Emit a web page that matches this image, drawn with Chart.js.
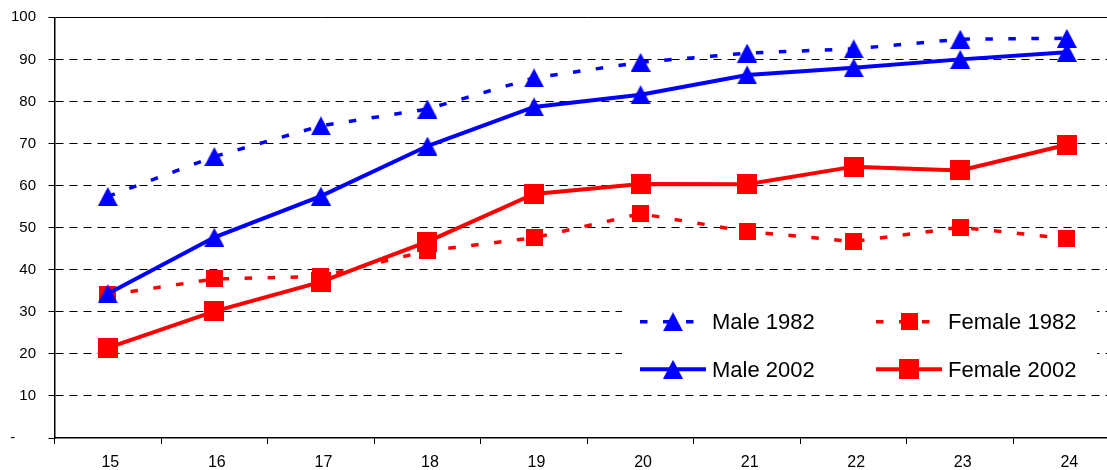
<!DOCTYPE html>
<html>
<head>
<meta charset="utf-8">
<script src="https://cdn.jsdelivr.net/npm/chart.js@4/dist/chart.umd.min.js"></script>
<style>
  html, body { margin: 0; padding: 0; background: #fff; overflow: hidden; width: 1107px; height: 470px; }
  canvas { display: block; }
</style>
</head>
<body>
<canvas id="chart" width="1130" height="470"></canvas>
<script>
// Age groups along the x axis
const ages = ['15', '16', '17', '18', '19', '20', '21', '22', '23', '24'];

// Percentages per age group
const male1982   = [57.4, 66.9, 74.2, 78.2, 85.6, 89.3, 91.5, 92.5, 94.8, 95.0];
const female1982 = [34.0, 37.8, 38.4, 44.5, 47.6, 53.3, 49.1, 46.7, 50.1, 47.4];
const male2002   = [34.3, 47.7, 57.5, 69.4, 78.7, 81.6, 86.3, 88.0, 90.0, 91.7];
const female2002 = [21.4, 30.1, 37.1, 46.7, 58.0, 60.4, 60.3, 64.5, 63.6, 69.7];

// Value axis labels (zero is shown as a dash)
const yTickLabels = ['-', '10', '20', '30', '40', '50', '60', '70', '80', '90', '100'];

const BLUE = '#0000FF';
const RED = '#FF0000';
const FONT = "'Liberation Sans', Arial, sans-serif";
const DASH = [7.5, 15.5];

function triangleMarker(color, w, h) {
  const c = document.createElement('canvas');
  c.width = w; c.height = h;
  const g = c.getContext('2d');
  g.fillStyle = color;
  g.beginPath();
  g.moveTo(w / 2, 0);
  g.lineTo(w, h);
  g.lineTo(0, h);
  g.closePath();
  g.fill();
  return c;
}
function squareMarker(color, s) {
  const c = document.createElement('canvas');
  c.width = s; c.height = s;
  const g = c.getContext('2d');
  g.fillStyle = color;
  g.fillRect(0, 0, s, s);
  return c;
}

const triBlue = triangleMarker(BLUE, 20, 19);
const sqRedSmall = squareMarker(RED, 17);
const sqRedLarge = squareMarker(RED, 20);

function series(label, data, color, marker, dashed, order) {
  return {
    label, data, order,
    borderColor: color,
    backgroundColor: color,
    borderWidth: dashed ? 3.5 : 4,
    borderDash: dashed ? DASH : [],
    borderCapStyle: 'butt',
    pointStyle: marker,
    pointRadius: 10,
    pointHoverRadius: 10,
    tension: 0,
    fill: false,
    clip: false
  };
}

// Scales keep no extra edge padding so the plot box sits exactly inside the layout padding
function noEdgePadding(scale) {
  scale.paddingTop = 0;
  scale.paddingBottom = 0;
  scale.paddingLeft = 0;
  scale.paddingRight = 0;
}

// Legend laid out as a 2x2 block on a white panel inside the plot
const gridLegend = {
  id: 'gridLegend',
  afterDraw(chart) {
    const ctx = chart.ctx;
    ctx.save();
    ctx.fillStyle = '#fff';
    ctx.fillRect(622, 290, 475, 98);
    const cols = [640, 876];
    const rows = [{ y: 321.7, base: 329 }, { y: 369.3, base: 377 }];
    const slots = [[0, 0], [1, 0], [0, 1], [1, 1]];
    const ds = chart.data.datasets;
    ds.forEach((d, i) => {
      const x0 = cols[slots[i][0]];
      const row = rows[slots[i][1]];
      ctx.save();
      ctx.strokeStyle = d.borderColor;
      ctx.lineWidth = d.borderWidth;
      ctx.lineCap = 'butt';
      ctx.setLineDash(d.borderDash);
      ctx.beginPath();
      ctx.moveTo(x0, row.y);
      ctx.lineTo(x0 + 66, row.y);
      ctx.stroke();
      ctx.restore();
      const m = d.pointStyle;
      ctx.drawImage(m, x0 + 33 - m.width / 2, row.y - m.height / 2);
      ctx.fillStyle = '#000';
      ctx.font = '22px ' + FONT;
      ctx.textBaseline = 'alphabetic';
      ctx.textAlign = 'left';
      ctx.fillText(d.label, x0 + 72, row.base);
    });
    ctx.restore();
  }
};

new Chart(document.getElementById('chart'), {
  type: 'line',
  data: {
    labels: ages,
    datasets: [
      series('Male 1982', male1982, BLUE, triBlue, true, 3),
      series('Female 1982', female1982, RED, sqRedSmall, true, 2),
      series('Male 2002', male2002, BLUE, triBlue, false, 1),
      series('Female 2002', female2002, RED, sqRedLarge, false, 0)
    ]
  },
  options: {
    responsive: false,
    animation: false,
    events: [],
    layout: { autoPadding: false, padding: { top: 17.3, right: 9.9, bottom: 0, left: 0 } },
    plugins: {
      legend: { display: false },
      tooltip: { enabled: false },
      title: { display: false }
    },
    scales: {
      x: {
        type: 'category',
        offset: true,
        afterFit(scale) { scale.height = 32; noEdgePadding(scale); },
        grid: {
          display: true,
          offset: true,
          drawOnChartArea: false,
          drawTicks: true,
          tickLength: 6,
          tickColor: '#000',
          color: '#000'
        },
        border: { display: true, color: '#000', width: 1.5 },
        ticks: {
          color: '#000',
          font: { family: FONT, size: 16 },
          padding: 9,
          labelOffset: 2.5,
          maxRotation: 0,
          autoSkip: false
        }
      },
      y: {
        min: 0,
        max: 100,
        afterFit(scale) { scale.width = 54.5; noEdgePadding(scale); },
        grid: {
          display: true,
          drawOnChartArea: true,
          drawTicks: true,
          tickLength: 6,
          tickColor: '#000',
          lineWidth: 1,
          color: (c) => (c.tick && c.tick.value === 0) ? 'rgba(0,0,0,0)' : '#000'
        },
        border: {
          display: true,
          color: '#000',
          width: 1.5,
          dash: (c) => (c.tick && c.tick.value === 100) ? [] : [8, 6]
        },
        ticks: {
          stepSize: 10,
          color: '#000',
          font: { family: FONT, size: 15 },
          padding: 12.5,
          callback: (v, i) => {
            const t = yTickLabels[i];
            return t === '-' ? t + '\u00a0\u00a0\u00a0\u00a0\u00a0' : t;
          }
        }
      }
    }
  },
  plugins: [gridLegend]
});
</script>
</body>
</html>
